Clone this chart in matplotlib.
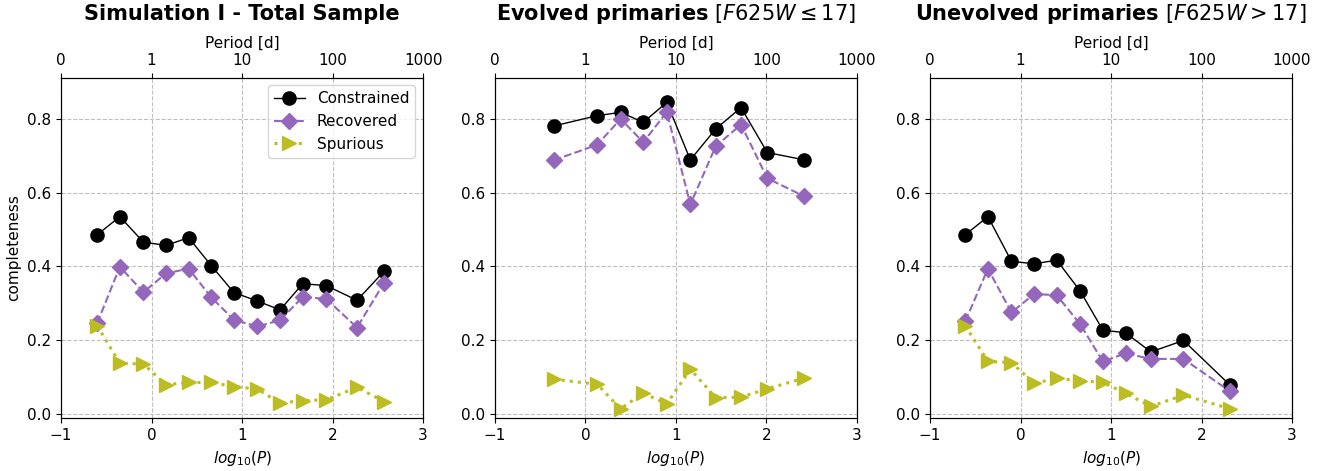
import numpy as np
import matplotlib
matplotlib.use("Agg")
import matplotlib.pyplot as plt

# log10(P) bin centres and completeness values
logp_total = [-0.60, -0.35, -0.09, 0.16, 0.41, 0.66, 0.91, 1.17, 1.42, 1.67, 1.93, 2.27, 2.57]
constr_total = [0.486, 0.535, 0.466, 0.457, 0.478, 0.402, 0.329, 0.306, 0.282, 0.353, 0.348, 0.308, 0.387]
recov_total = [0.246, 0.399, 0.330, 0.381, 0.394, 0.316, 0.255, 0.237, 0.254, 0.317, 0.312, 0.234, 0.356]
spur_total = [0.239, 0.137, 0.135, 0.079, 0.085, 0.085, 0.074, 0.067, 0.029, 0.036, 0.038, 0.072, 0.033]

logp_evol = [-0.35, 0.13, 0.39, 0.64, 0.90, 1.16, 1.44, 1.72, 2.01, 2.42]
constr_evol = [0.781, 0.809, 0.818, 0.791, 0.845, 0.689, 0.773, 0.831, 0.709, 0.689]
recov_evol = [0.688, 0.730, 0.800, 0.737, 0.819, 0.568, 0.726, 0.785, 0.639, 0.590]
spur_evol = [0.094, 0.080, 0.014, 0.056, 0.027, 0.121, 0.044, 0.045, 0.068, 0.097]

logp_unev = [-0.61, -0.36, -0.10, 0.15, 0.40, 0.66, 0.91, 1.16, 1.44, 1.80, 2.31]
constr_unev = [0.486, 0.535, 0.414, 0.407, 0.417, 0.333, 0.227, 0.220, 0.168, 0.199, 0.079]
recov_unev = [0.251, 0.394, 0.275, 0.325, 0.322, 0.243, 0.142, 0.164, 0.149, 0.149, 0.062]
spur_unev = [0.239, 0.142, 0.139, 0.083, 0.096, 0.090, 0.085, 0.056, 0.020, 0.051, 0.014]

titles = [r"Simulation I - Total Sample",
          r"Evolved primaries $[F625W \leq 17]$",
          r"Unevolved primaries $[F625W > 17]$"]
top_ticks = [-1, 0, 1, 2, 3]
top_labels = ["0", "1", "10", "100", "1000"]

panels = [
    (logp_total, constr_total, recov_total, spur_total),
    (logp_evol, constr_evol, recov_evol, spur_evol),
    (logp_unev, constr_unev, recov_unev, spur_unev),
]

fig = plt.figure(figsize=(13.41, 4.71), dpi=100)
lefts = [0.0455, 0.369, 0.6935]

for i, (x, c, r, s) in enumerate(panels):
    ax = fig.add_axes([lefts[i], 0.112, 0.27, 0.723])
    ax.plot(x, c, "k-o", lw=1, ms=9.5, label="Constrained")
    ax.plot(x, r, "--D", color="tab:purple", lw=1.5, ms=8.5, label="Recovered")
    ax.plot(x, s, ":>", color="tab:olive", lw=2.2, ms=10, label="Spurious")
    ax.set_xlim(-1, 3)
    ax.set_ylim(-0.012, 0.912)
    ax.set_xticks([-1, 0, 1, 2, 3])
    ax.set_yticks([0.0, 0.2, 0.4, 0.6, 0.8])
    ax.grid(True, ls="--", color="0.75", lw=0.8)
    ax.tick_params(labelsize=11)
    ax.set_xlabel(r"$log_{10}(P)$", fontsize=11)
    if i == 0:
        ax.set_ylabel("completeness", fontsize=11)
        ax.legend(loc="upper right", fontsize=11)

    top = ax.twiny()
    top.set_xlim(-1, 3)
    top.set_xticks(top_ticks)
    top.set_xticklabels(top_labels)
    top.tick_params(labelsize=11)
    top.set_xlabel("Period [d]", fontsize=11)
    top.set_title(titles[i], fontsize=15, fontweight="bold", pad=11)

fig.savefig("out.png", dpi=100)
